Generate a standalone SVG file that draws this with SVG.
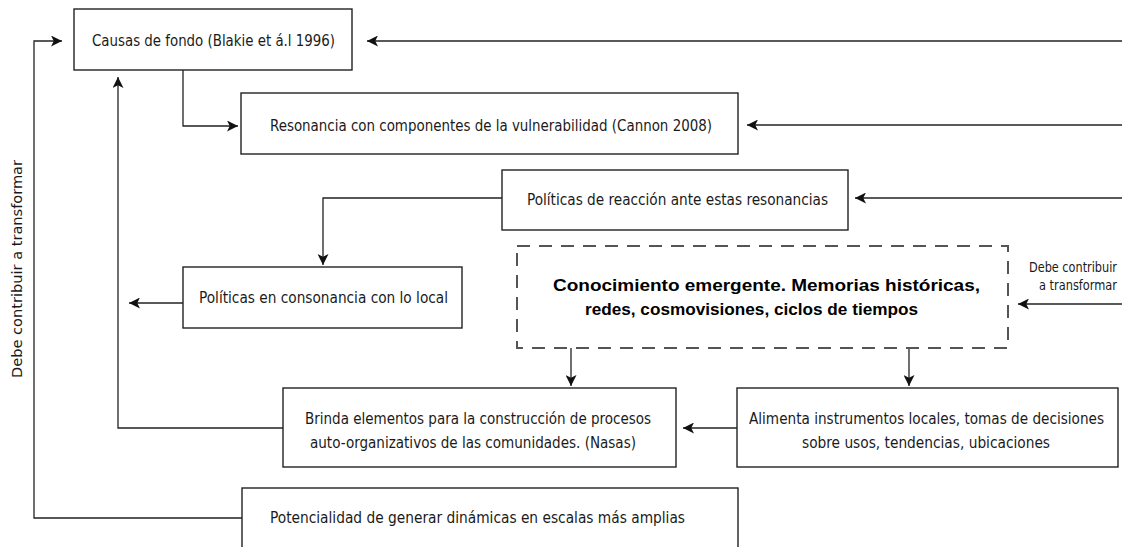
<svg xmlns="http://www.w3.org/2000/svg" width="1122" height="547" viewBox="0 0 1122 547">
<style>
.box{fill:#fff;stroke:#222;stroke-width:1.4}
.dash{fill:none;stroke:#555;stroke-width:2;stroke-dasharray:13 9}
.ln{fill:none;stroke:#222;stroke-width:1.3}
.t{font-family:"Liberation Sans Narrow","DejaVu Sans Condensed","Liberation Sans",sans-serif;font-size:16px;fill:#1a1a1a}
.s{font-family:"Liberation Sans Narrow","DejaVu Sans Condensed","Liberation Sans",sans-serif;font-size:14px;fill:#1a1a1a}
.b{font-family:"Liberation Sans",Arial,sans-serif;font-size:17px;font-weight:bold;fill:#000}
</style>
<defs>
<marker id="ah" viewBox="0 0 10 10" markerWidth="11" markerHeight="11" markerUnits="userSpaceOnUse" refX="10" refY="5" orient="auto">
<path d="M0,0 L10,5 L0,10 L2.5,5 z" fill="#111"/>
</marker>
</defs>
<rect width="1122" height="547" fill="#fff"/>
<g id="connectors">
<path class="ln" d="M1122,41 H367" marker-end="url(#ah)"/>
<path class="ln" d="M1122,125 H747" marker-end="url(#ah)"/>
<path class="ln" d="M1122,198 H855" marker-end="url(#ah)"/>
<path class="ln" d="M1122,304 H1018" marker-end="url(#ah)"/>
<path class="ln" d="M183,70 V126 H238" marker-end="url(#ah)"/>
<path class="ln" d="M502,198 H323 V265" marker-end="url(#ah)"/>
<path class="ln" d="M183,303 H129" marker-end="url(#ah)"/>
<path class="ln" d="M283,428 H118 V77" marker-end="url(#ah)"/>
<path class="ln" d="M242,518 H34 V41 H62" marker-end="url(#ah)"/>
<path class="ln" d="M571,348 V386" marker-end="url(#ah)"/>
<path class="ln" d="M909,348 V386" marker-end="url(#ah)"/>
<path class="ln" d="M737,428 H683" marker-end="url(#ah)"/>
<text class="s" transform="translate(22,269) rotate(-90)" text-anchor="middle" textLength="218" lengthAdjust="spacingAndGlyphs">Debe contribuir  a transformar</text>
<text class="s" x="1117" y="272" text-anchor="end" textLength="88" lengthAdjust="spacingAndGlyphs">Debe contribuir</text>
<text class="s" x="1117" y="290" text-anchor="end" textLength="78" lengthAdjust="spacingAndGlyphs">a transformar</text>
</g>
<g id="n1">
<rect class="box" x="74" y="9" width="278" height="61"/>
<text class="t" x="213.5" y="46" text-anchor="middle" textLength="243" lengthAdjust="spacingAndGlyphs">Causas de fondo (Blakie et á.l 1996)</text>
</g>
<g id="n2">
<rect class="box" x="241" y="93" width="497" height="61"/>
<text class="t" x="491" y="131" text-anchor="middle" textLength="442" lengthAdjust="spacingAndGlyphs">Resonancia con componentes de la vulnerabilidad (Cannon 2008)</text>
</g>
<g id="n3">
<rect class="box" x="502" y="170" width="346" height="60"/>
<text class="t" x="677.5" y="205" text-anchor="middle" textLength="301" lengthAdjust="spacingAndGlyphs">Políticas de reacción ante estas resonancias</text>
</g>
<g id="n4">
<rect class="box" x="183" y="267" width="279" height="61"/>
<text class="t" x="323.5" y="303" text-anchor="middle" textLength="249" lengthAdjust="spacingAndGlyphs">Políticas en consonancia con lo local</text>
</g>
<g id="n5">
<rect class="dash" x="517" y="246" width="491" height="102"/>
<text class="b" x="766.5" y="291" text-anchor="middle" textLength="427" lengthAdjust="spacingAndGlyphs">Conocimiento emergente. Memorias históricas,</text>
<text class="b" x="751.5" y="315" text-anchor="middle" textLength="333" lengthAdjust="spacingAndGlyphs">redes, cosmovisiones, ciclos de tiempos</text>
</g>
<g id="n6">
<rect class="box" x="283" y="388" width="393" height="79"/>
<text class="t" x="478" y="424" text-anchor="middle" textLength="346" lengthAdjust="spacingAndGlyphs">Brinda elementos para la construcción de procesos</text>
<text class="t" x="473" y="448" text-anchor="middle" textLength="326" lengthAdjust="spacingAndGlyphs">auto-organizativos de las comunidades. (Nasas)</text>
</g>
<g id="n7">
<rect class="box" x="737" y="388" width="381" height="79"/>
<text class="t" x="926.5" y="424" text-anchor="middle" textLength="355" lengthAdjust="spacingAndGlyphs">Alimenta instrumentos locales, tomas de decisiones</text>
<text class="t" x="926" y="448" text-anchor="middle" textLength="248" lengthAdjust="spacingAndGlyphs">sobre usos, tendencias, ubicaciones</text>
</g>
<g id="n8">
<rect class="box" x="242" y="488" width="496" height="80"/>
<text class="t" x="477.5" y="523" text-anchor="middle" textLength="415" lengthAdjust="spacingAndGlyphs">Potencialidad de generar dinámicas en escalas más amplias</text>
</g>
</svg>
